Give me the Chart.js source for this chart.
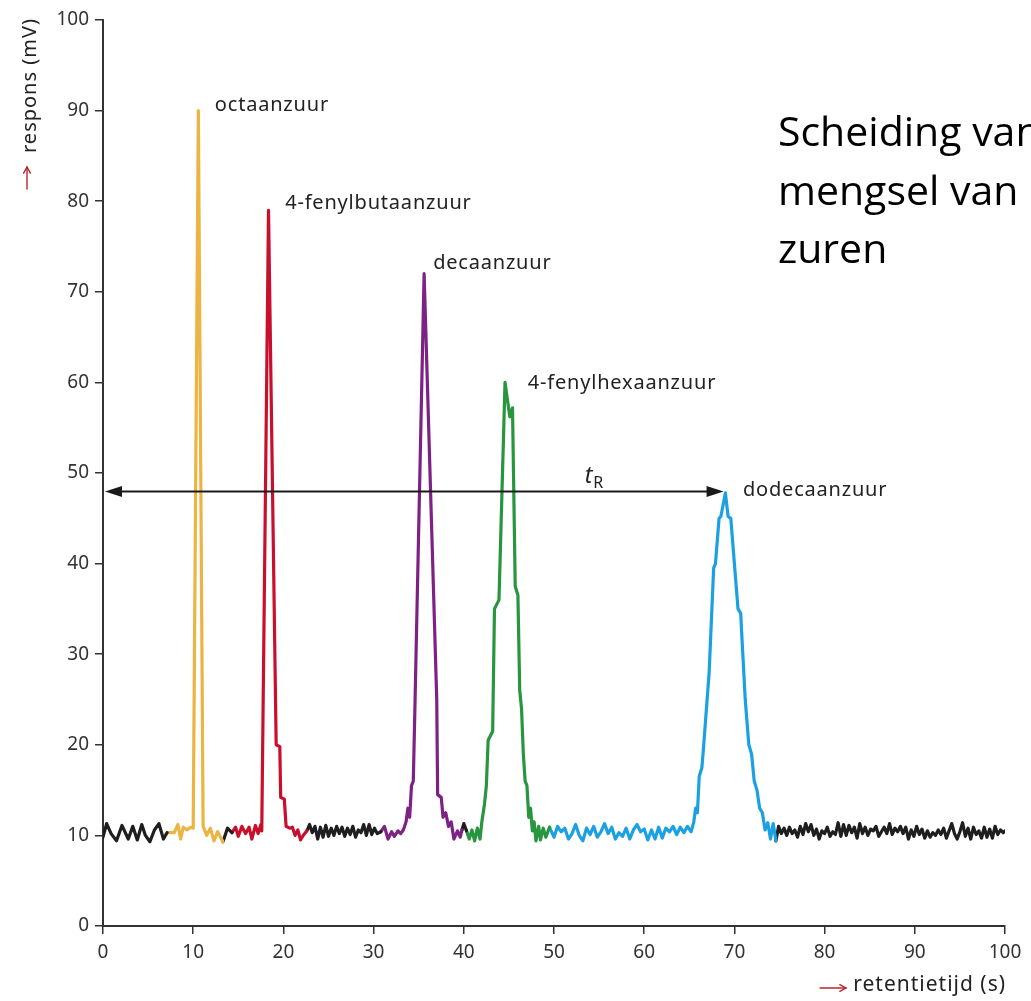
<!DOCTYPE html>
<html><head><meta charset="utf-8">
<script src="https://cdn.jsdelivr.net/npm/chart.js@4"></script>
<style>html,body{margin:0;padding:0;background:#fff}#wrap{width:1031px;height:1001px;position:relative}</style>
</head><body><div id="wrap"><canvas id="c" width="1031" height="1001"></canvas></div>
<script>
// ---- data (retentietijd s, respons mV) ----
const black1 = [[0,9.8],[0.4,11.3],[0.9,10.2],[1.5,9.4],[2.1,11.1],[2.8,9.6],[3.3,11.0],[3.8,9.5],[4.3,11.2],[4.7,10.0],[5.2,9.3],[5.7,10.6],[6.2,11.3],[6.7,9.6],[7.1,10.3]];
const orange = [[7.1,10.3],[7.9,10.3],[8.3,11.2],[8.6,9.6],[8.9,10.9],[9.3,10.6],[9.7,10.9],[10.0,10.8],[10.57,90],[11.1,11.0],[11.5,10.0],[11.9,10.8],[12.3,9.4],[12.7,10.4],[13.3,9.3]];
const black2 = [[13.3,9.3],[13.8,10.8],[14.3,10.3]];
const red = [[14.3,10.3],[14.7,10.9],[15.0,9.9],[15.4,11.0],[15.8,10.2],[16.2,10.9],[16.5,9.6],[16.9,11.1],[17.2,10.2],[17.5,11.2],[17.6,10.5],[18.35,79],[19.2,20],[19.6,19.8],[19.7,14.2],[20.1,14.0],[20.3,11.0],[20.7,10.8],[21.0,10.9],[21.3,10.0],[21.6,10.6],[21.9,9.5],[22.2,10.0],[22.6,10.5]];
const black3 = [[22.6,10.5],[22.9,11.2],[23.2,10.3],[23.5,11.0],[23.8,9.6],[24.1,10.9],[24.4,9.8],[24.7,11.1],[25.0,9.9],[25.3,10.8],[25.6,10.0],[25.9,11.0],[26.2,10.2],[26.5,10.9],[26.8,9.9],[27.1,10.8],[27.4,10.1],[27.7,11.0],[28.0,9.8],[28.3,10.6],[28.6,10.3],[28.9,11.2],[29.2,10.0],[29.5,11.2],[29.8,10.1],[30.1,10.8],[30.4,10.2],[30.8,10.4]];
const purple = [[30.8,10.4],[31.2,11.0],[31.6,9.6],[32.0,10.4],[32.3,9.9],[32.7,10.5],[33.0,10.2],[33.3,10.6],[33.6,11.5],[33.8,13.0],[34.0,12.0],[34.2,15.5],[34.4,16.0],[34.6,25],[35.6,72],[37.0,25],[37.1,14.5],[37.5,14.2],[37.7,12.0],[38.0,12.5],[38.3,11.0],[38.6,11.5],[38.9,9.6],[39.3,10.5],[39.6,9.8],[39.8,10.6]];
const black4 = [[39.8,10.6],[40.0,11.3],[40.3,10.5]];
const green = [[40.3,10.5],[40.6,9.6],[40.9,10.6],[41.2,9.4],[41.5,10.8],[41.8,9.6],[42.0,11.5],[42.3,13.5],[42.5,15.5],[42.7,20.5],[43.2,21.5],[43.4,35],[43.9,36],[44.57,60],[45.1,56.2],[45.4,57.2],[45.7,37.5],[46.0,36.5],[46.2,26],[46.4,24],[46.6,19],[46.8,16],[47.0,15.5],[47.2,12],[47.4,13],[47.6,10.5],[47.8,11.5],[48.0,9.4],[48.3,11.0],[48.5,9.5],[48.8,10.8],[49.1,9.8],[49.5,10.9]];
const blue = [[49.5,10.9],[50.0,9.8],[50.4,11.0],[50.8,10.4],[51.2,10.8],[51.6,9.6],[52.0,10.2],[52.4,11.2],[52.8,10.0],[53.2,9.4],[53.6,10.8],[54.0,10.1],[54.4,11.0],[54.8,9.8],[55.2,10.4],[55.6,11.3],[56.0,10.2],[56.4,10.9],[56.8,9.6],[57.2,10.3],[57.6,9.9],[58.0,10.8],[58.4,9.6],[58.8,10.6],[59.2,11.2],[59.6,10.4],[60.0,10.7],[60.4,9.5],[60.8,10.6],[61.2,9.6],[61.6,10.9],[62.0,9.7],[62.4,10.8],[62.8,10.4],[63.2,11.0],[63.6,10.1],[64.0,10.9],[64.4,10.3],[64.8,11.0],[65.2,10.4],[65.5,11.5],[65.7,13.0],[65.9,12.5],[66.1,16.5],[66.4,17.5],[66.6,20],[67.2,28],[67.7,39.5],[67.9,40],[68.3,45],[68.5,45.2],[69.0,47.8],[69.3,45.2],[69.6,45],[70.4,35],[70.7,34.5],[70.8,32.5],[71.2,25],[71.6,20],[71.9,19],[72.2,16],[72.5,15],[72.8,13],[73.1,12.5],[73.4,10.6],[73.7,11.4],[74.0,9.6],[74.3,11.3],[74.6,9.4]];
const black5 = [[74.6,9.4],[74.9,11.0],[75.2,10.2],[75.5,10.8],[75.8,10.0],[76.1,10.9],[76.4,10.2],[76.7,10.6],[77.0,9.8],[77.3,11.0],[77.6,10.1],[77.9,11.3],[78.2,10.4],[78.5,11.2],[78.8,10.0],[79.1,10.7],[79.4,9.6],[79.7,10.5],[80.0,10.2],[80.3,10.9],[80.6,9.9],[80.9,10.4],[81.2,10.1],[81.5,11.4],[81.8,9.9],[82.1,11.2],[82.4,10.0],[82.7,11.1],[83.0,10.3],[83.3,10.9],[83.6,9.7],[83.9,11.3],[84.2,10.2],[84.5,10.9],[84.8,10.0],[85.1,10.7],[85.4,10.5],[85.7,11.0],[86.0,9.9],[86.3,10.4],[86.6,10.9],[86.9,10.2],[87.2,11.3],[87.5,10.1],[87.8,10.8],[88.1,10.4],[88.4,11.0],[88.7,10.2],[89.0,10.9],[89.3,9.6],[89.6,10.6],[89.9,9.9],[90.2,11.0],[90.5,10.1],[90.8,10.7],[91.1,9.7],[91.4,10.5],[91.7,9.8],[92.0,10.3],[92.3,10.0],[92.6,10.6],[92.9,10.1],[93.2,10.8],[93.5,9.7],[93.8,10.5],[94.1,11.3],[94.4,10.2],[94.7,9.6],[95.0,10.4],[95.3,11.4],[95.6,9.9],[95.9,10.8],[96.2,9.6],[96.5,10.9],[96.8,10.1],[97.1,10.5],[97.4,9.7],[97.7,10.9],[98.0,9.8],[98.3,10.7],[98.6,9.7],[98.9,11.0],[99.2,10.1],[99.5,10.6],[99.8,10.3],[100,10.5]];

const peakNames = ['octaanzuur','4-fenylbutaanzuur','decaanzuur','4-fenylhexaanzuur','dodecaanzuur'];
const peakLabelX = [12.4, 20.2, 36.6, 47.1, 70.95];
const peakLabelY = [90.6, 79.8, 73.2, 59.9, 48.1];
const tRArrow = {from: 0, to: 68.8, y: 48};
const tRLabelX = 53.4;
const xTicks = [0,10,20,30,40,50,60,70,80,90,100];
const yTicks = [0,10,20,30,40,50,60,70,80,90,100];
const titleLines = ['Scheiding van','mengsel van','zuren'];
const xTitle = 'retentietijd (s)';
const yTitle = 'respons (mV)';

const BLACK='#1e1e1e', ORANGE='#ebb443', RED='#c8102e', PURPLE='#7d2185', GREEN='#27963f', BLUE='#1ba1e2';
const ARROWRED = '#b8262e';
const segs = [[black1,BLACK],[orange,ORANGE],[black2,BLACK],[red,RED],[black3,BLACK],[purple,PURPLE],[black4,BLACK],[green,GREEN],[blue,BLUE],[black5,BLACK]];

const LFONT = '"Noto Sans", sans-serif';

function redArrow(ctx, x0, y0, x1, y1){
  const ang = Math.atan2(y1 - y0, x1 - x0);
  ctx.save();
  ctx.strokeStyle = ARROWRED; ctx.lineWidth = 1.4; ctx.lineCap = 'round';
  ctx.beginPath(); ctx.moveTo(x0, y0); ctx.lineTo(x1, y1); ctx.stroke();
  ctx.beginPath();
  ctx.moveTo(x1 - 7*Math.cos(ang - 0.5), y1 - 7*Math.sin(ang - 0.5));
  ctx.lineTo(x1, y1);
  ctx.lineTo(x1 - 7*Math.cos(ang + 0.5), y1 - 7*Math.sin(ang + 0.5));
  ctx.stroke();
  ctx.restore();
}

const annot = {
  id: 'annot',
  afterDatasetsDraw(chart){
    const {ctx, scales:{x, y}} = chart;
    ctx.save();
    // tR arrow
    const ay = Math.round(y.getPixelForValue(tRArrow.y)) + 0.5;
    const ax0 = x.getPixelForValue(tRArrow.from) + 2;
    const ax1 = x.getPixelForValue(tRArrow.to);
    ctx.strokeStyle = '#1a1a1a'; ctx.fillStyle = '#1a1a1a'; ctx.lineWidth = 2;
    ctx.beginPath(); ctx.moveTo(ax0 + 10, ay); ctx.lineTo(ax1 - 10, ay); ctx.stroke();
    ctx.beginPath(); ctx.moveTo(ax0, ay); ctx.lineTo(ax0 + 17, ay - 5.5); ctx.lineTo(ax0 + 17, ay + 5.5); ctx.closePath(); ctx.fill();
    ctx.beginPath(); ctx.moveTo(ax1, ay); ctx.lineTo(ax1 - 17, ay - 5.5); ctx.lineTo(ax1 - 17, ay + 5.5); ctx.closePath(); ctx.fill();
    // tR text
    const tx = x.getPixelForValue(tRLabelX);
    ctx.fillStyle = '#222';
    ctx.textBaseline = 'alphabetic'; ctx.textAlign = 'left';
    ctx.font = 'italic 23px ' + LFONT;
    ctx.fillText('t', tx, ay - 9);
    const tw = ctx.measureText('t').width;
    ctx.font = '16px ' + LFONT;
    ctx.fillText('R', tx + tw + 1, ay - 4);
    // peak labels
    ctx.font = '20px ' + LFONT;
    ctx.letterSpacing = '0.8px';
    ctx.textBaseline = 'middle';
    peakNames.forEach((n, i) => {
      ctx.fillText(n, x.getPixelForValue(peakLabelX[i]), y.getPixelForValue(peakLabelY[i]));
    });
    ctx.restore();
  },
  afterDraw(chart){
    const {ctx, chartArea:ca} = chart;
    // y axis title (rotated)
    ctx.save();
    ctx.translate(ca.left - 73, 153);
    ctx.rotate(-Math.PI/2);
    ctx.font = '20px ' + LFONT;
    ctx.letterSpacing = '1px';
    ctx.textBaseline = 'middle'; ctx.textAlign = 'left';
    ctx.fillStyle = '#222';
    ctx.fillText(yTitle, 0, 0);
    ctx.restore();
    redArrow(ctx, ca.left - 76, 189, ca.left - 76, 167);
    // x axis title
    ctx.save();
    ctx.font = '21px ' + LFONT;
    ctx.letterSpacing = '1px';
    ctx.textBaseline = 'middle'; ctx.textAlign = 'right';
    ctx.fillStyle = '#222';
    ctx.fillText(xTitle, ca.right + 1, ca.bottom + 59);
    ctx.restore();
    redArrow(ctx, ca.right - 185, ca.bottom + 62, ca.right - 159, ca.bottom + 62);
    // title
    ctx.save();
    ctx.font = '41px "Open Sans", sans-serif';
    ctx.fillStyle = '#000';
    ctx.textBaseline = 'alphabetic'; ctx.textAlign = 'left';
    titleLines.forEach((t, i) => ctx.fillText(t, 778, 146 + i * 58.5));
    ctx.restore();
  }
};

const tickFont = {family: '"Noto Sans", sans-serif', size: 19};
new Chart(document.getElementById('c'), {
  type: 'line',
  data: {
    datasets: segs.map(([pts, col]) => ({
      data: pts.map(p => ({x: p[0], y: p[1]})),
      borderColor: col, borderWidth: 3.2, pointRadius: 0, tension: 0,
      borderJoinStyle: 'round', borderCapStyle: 'round', fill: false
    }))
  },
  options: {
    responsive: false, animation: false,
    layout: {padding: {top: 20, right: 26, left: 0, bottom: 0}},
    plugins: {legend: {display: false}, tooltip: {enabled: false}},
    scales: {
      x: {
        type: 'linear', min: 0, max: 100,
        afterBuildTicks: s => { s.ticks = xTicks.map(v => ({value: v})); },
        afterFit: s => { s.height = 75; },
        ticks: {font: tickFont, color: '#333', padding: 7, maxRotation: 0, autoSkip: false},
        grid: {drawOnChartArea: false, drawTicks: true, tickLength: 8, color: '#333', lineWidth: 1.5},
        border: {display: true, color: '#333', width: 2}
      },
      y: {
        type: 'linear', min: 0, max: 100,
        afterBuildTicks: s => { s.ticks = yTicks.map(v => ({value: v})); },
        afterFit: s => { s.width = 103; },
        ticks: {font: tickFont, color: '#333', padding: 6, autoSkip: false},
        grid: {drawOnChartArea: false, drawTicks: true, tickLength: 8, color: '#333', lineWidth: 1.5},
        border: {display: true, color: '#333', width: 2}
      }
    }
  },
  plugins: [annot]
});
</script></body></html>
